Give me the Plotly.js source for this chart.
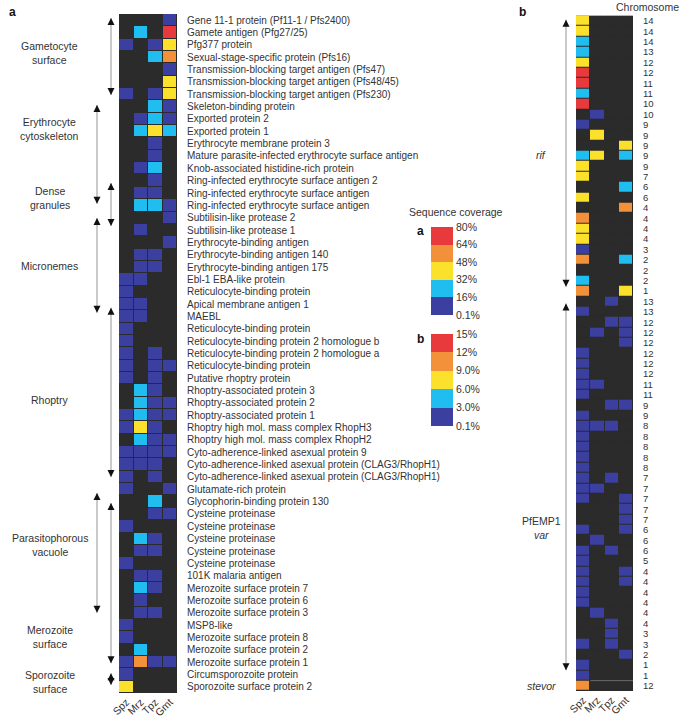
<!DOCTYPE html>
<html>
<head>
<meta charset="utf-8">
<script src="https://cdn.plot.ly/plotly-3.0.1.min.js"></script>
<style>
  body { margin: 0; background: #fff; }
  #chart { width: 685px; height: 720px; }
</style>
</head>
<body>
<div id="chart"></div>
<script>
// coverage level per cell: 0 none, 1 lowest bin ... 5 highest bin
var stages = ["Spz", "Mrz", "Tpz", "Gmt"];

var proteins = [
  "Gene 11-1 protein (Pf11-1 / Pfs2400)",
  "Gamete antigen (Pfg27/25)",
  "Pfg377 protein",
  "Sexual-stage-specific protein (Pfs16)",
  "Transmission-blocking target antigen (Pfs47)",
  "Transmission-blocking target antigen (Pfs48/45)",
  "Transmission-blocking target antigen (Pfs230)",
  "Skeleton-binding protein",
  "Exported protein 2",
  "Exported protein 1",
  "Erythrocyte membrane protein 3",
  "Mature parasite-infected erythrocyte surface antigen",
  "Knob-associated histidine-rich protein",
  "Ring-infected erythrocyte surface antigen 2",
  "Ring-infected erythrocyte surface antigen",
  "Ring-infected erythrocyte surface antigen",
  "Subtilisin-like protease 2",
  "Subtilisin-like protease 1",
  "Erythrocyte-binding antigen",
  "Erythrocyte-binding antigen 140",
  "Erythrocyte-binding antigen 175",
  "Ebl-1 EBA-like protein",
  "Reticulocyte-binding protein",
  "Apical membrane antigen 1",
  "MAEBL",
  "Reticulocyte-binding protein",
  "Reticulocyte-binding protein 2 homologue b",
  "Reticulocyte-binding protein 2 homologue a",
  "Reticulocyte-binding protein",
  "Putative rhoptry protein",
  "Rhoptry-associated protein 3",
  "Rhoptry-associated protein 2",
  "Rhoptry-associated protein 1",
  "Rhoptry high mol. mass complex RhopH3",
  "Rhoptry high mol. mass complex RhopH2",
  "Cyto-adherence-linked asexual protein 9",
  "Cyto-adherence-linked asexual protein (CLAG3/RhopH1)",
  "Cyto-adherence-linked asexual protein (CLAG3/RhopH1)",
  "Glutamate-rich protein",
  "Glycophorin-binding protein 130",
  "Cysteine proteinase",
  "Cysteine proteinase",
  "Cysteine proteinase",
  "Cysteine proteinase",
  "Cysteine proteinase",
  "101K malaria antigen",
  "Merozoite surface protein 7",
  "Merozoite surface protein 6",
  "Merozoite surface protein 3",
  "MSP8-like",
  "Merozoite surface protein 8",
  "Merozoite surface protein 2",
  "Merozoite surface protein 1",
  "Circumsporozoite protein",
  "Sporozoite surface protein 2"
];

var spzA = [0,0,1,0,0,0,1,0,0,0, 0,0,0,0,0,0,0,0,0,0, 0,1,1,1,1,1,1,1,1,1,
            0,0,1,1,0,1,1,1,1,0, 0,1,0,0,1,0,0,0,0,1, 1,0,1,1,3];
var mrzA = [0,2,0,0,0,0,0,0,1,2, 0,0,1,0,1,2,0,1,0,1, 1,1,0,1,1,0,0,0,0,0,
            2,2,2,3,2,1,1,0,0,0, 0,0,2,1,0,1,2,1,1,0, 0,2,4,0,0];
var tpzA = [0,0,1,2,0,0,1,2,2,3, 1,1,2,1,1,2,0,0,0,1, 1,0,0,0,0,0,0,1,1,1,
            1,1,1,1,1,1,1,1,0,2, 1,0,1,1,0,1,1,0,1,0, 0,0,1,0,0];
var gmtA = [1,5,3,4,1,3,3,1,1,2, 0,0,0,0,0,1,1,0,1,0, 0,0,0,0,0,0,0,0,1,0,
            0,1,1,0,1,1,0,0,1,0, 1,0,0,0,0,0,0,0,0,0, 0,0,1,0,0];

var chromosomes = [14,14,14,13,12,12,11,11,10,10,9,9,9,9,9,7,6,6,4,4,4,4,3,2,2,2,1,
                   13,13,12,12,12,12,12,12,11,11,9,9,8,8,8,8,8,7,7,7,7,7,6,6,6,5,4,4,4,4,4,4,3,3,2,1,1,
                   12];

var spzB = [3,3,2,2,3,5,5,2,5,0, 1,0,0,2,3,3,0,3,0,4, 3,3,1,4,0,2,4,
            0,1,0,0,0,1,1,1,1,1, 0,1,1,1,1,1,1,1,1,1, 0,0,1,0,1,1,1,1,1,1,
            0,0,0,1,0,1,1, 4];
var mrzB = [0,0,0,0,0,0,0,0,0,1, 0,3,0,3,0,0,0,0,0,0, 0,0,0,0,0,0,0,
            0,0,0,1,0,0,0,0,1,0, 0,0,1,0,0,0,0,0,1,0, 0,0,0,1,0,0,0,0,0,0,
            1,0,0,0,0,0,0, 0];
var tpzB = [0,0,0,0,0,0,0,0,0,0, 0,0,0,0,0,0,0,0,0,0, 0,0,0,0,0,0,0,
            1,0,1,0,0,0,0,0,0,0, 1,0,1,0,0,0,0,1,0,0, 0,0,0,0,1,0,0,0,0,0,
            0,1,1,1,0,0,0, 0];
var gmtB = [0,0,0,0,0,0,0,0,0,0, 0,0,3,2,0,0,2,0,4,0, 0,0,0,2,0,0,3,
            0,0,1,1,1,0,0,0,0,0, 1,0,0,0,0,0,0,0,0,1, 1,1,1,0,0,0,1,1,0,0,
            0,0,0,0,1,0,0, 0];

var binLabelsA = ["0.1%", "16%", "32%", "48%", "64%", "80%"];
var binLabelsB = ["0.1%", "3.0%", "6.0%", "9.0%", "12%", "15%"];

var levelColors = ["#2b2b2b", "#3b3fa0", "#1fbdf0", "#fbe12c", "#f2913a", "#e83a3c"];

// localisation groups of panel a (row index ranges for the arrows)
var groupsA = [
  { name: "Gametocyte<br>surface", labelRow: 2.66, lane: 1, from: -0.18, to: 6.06 },
  { name: "Erythrocyte<br>cytoskeleton", labelRow: 8.8, lane: 0, from: 6.87, to: 14.88 },
  { name: "Dense<br>granules", labelRow: 14.4, lane: 1, from: 13.18, to: 16.67 },
  { name: "Micronemes", labelRow: 19.9, lane: 0, from: 16.02, to: 23.7 },
  { name: "Rhoptry", labelRow: 30.8, lane: 1, from: 23.3, to: 37.0 },
  { name: "Parasitophorous<br>vacuole", labelRow: 42.5, lane: 0, from: 38.3, to: 48.0 },
  { name: "Merozoite<br>surface", labelRow: 50.0, lane: 1, from: 39.1, to: 52.1 },
  { name: "Sporozoite<br>surface", labelRow: 53.6, lane: 1, from: 52.9, to: 53.85 }
];
var groupsB = [
  { name: "<i>rif</i>", labelRow: 12.9, from: -0.1, to: 25.6, arrow: true },
  { name: "PfEMP1<br><i>var</i>", labelRow: 48.8, from: 27.2, to: 62.5, arrow: true },
  { name: "<i>stevor</i>", labelRow: 64, arrow: false }
];

var W = 685, H = 720;
function px(x) { return x / W; }
function py(y) { return 1 - y / H; }

function zFrom(cols) {
  var z = [];
  for (var i = 0; i < cols[0].length; i++) {
    z.push(cols.map(function (c) { return c[i]; }));
  }
  return z;
}

var scale = [];
levelColors.forEach(function (c, k) {
  scale.push([k / 6, c]);
  scale.push([(k + 1) / 6, c]);
});

var idxA = proteins.map(function (p, i) { return i; });
var idxB = chromosomes.map(function (c, i) { return i; });

var family = "Liberation Sans, Arial, sans-serif";
var font = { family: family, size: 10.5, color: "#333" };
var rowFontA = { family: family, size: 10, color: "#333" };
var rowFontB = { family: family, size: 9.5, color: "#333" };

var traceA = {
  type: "heatmap", x: stages, y: idxA, z: zFrom([spzA, mrzA, tpzA, gmtA]),
  colorscale: scale, zmin: -0.5, zmax: 5.5, showscale: false,
  xgap: 1, ygap: 1, xaxis: "x", yaxis: "y", hoverinfo: "skip"
};
var traceB = {
  type: "heatmap", x: stages, y: idxB, z: zFrom([spzB, mrzB, tpzB, gmtB]),
  colorscale: scale, zmin: -0.5, zmax: 5.5, showscale: false,
  xgap: 1, ygap: 1, xaxis: "x2", yaxis: "y2", hoverinfo: "skip"
};
var keyLevels = [[1], [2], [3], [4], [5]];
var keyA = {
  type: "heatmap", x: [0], y: [0, 1, 2, 3, 4], z: keyLevels,
  colorscale: scale, zmin: -0.5, zmax: 5.5, showscale: false,
  xaxis: "x3", yaxis: "y3", hoverinfo: "skip"
};
var keyB = {
  type: "heatmap", x: [0], y: [0, 1, 2, 3, 4], z: keyLevels,
  colorscale: scale, zmin: -0.5, zmax: 5.5, showscale: false,
  xaxis: "x4", yaxis: "y4", hoverinfo: "skip"
};

function stageAxis(domain, anchor) {
  return {
    domain: domain, anchor: anchor, type: "category", tickangle: -45,
    ticks: "", showgrid: false, zeroline: false, showline: false,
    tickfont: font, automargin: false, fixedrange: true
  };
}
function rowAxis(domain, anchor, n, text, tfont) {
  return {
    domain: domain, anchor: anchor, side: "right", range: [n - 0.5, -0.5],
    tickmode: "array", tickvals: text.map(function (t, i) { return i; }), ticktext: text,
    ticks: "", ticklabelstandoff: 9, showgrid: false, zeroline: false, showline: false,
    tickfont: tfont, automargin: false, fixedrange: true
  };
}
function keyYAxis(domain, anchor, labels) {
  return {
    domain: domain, anchor: anchor, side: "right", range: [-0.5, 4.5],
    tickmode: "array", tickvals: [-0.5, 0.5, 1.5, 2.5, 3.5, 4.5], ticktext: labels,
    ticks: "", ticklabelstandoff: 2, showgrid: false, zeroline: false,
    tickfont: font, automargin: false, fixedrange: true
  };
}
function hiddenAxis(domain, anchor) {
  return { domain: domain, anchor: anchor, visible: false, fixedrange: true };
}

var shapes = [];
var annotations = [];

// gray shaft with a short black head at each end; rowPx = pixels per row
function addArrow(xPix, yref, from, to, rowPx) {
  var tail = Math.min(6, (to - from) * rowPx / 2);
  shapes.push({
    type: "line", xref: "paper", yref: yref, x0: px(xPix), x1: px(xPix), y0: from, y1: to,
    line: { color: "#b8b8b8", width: 1.5 }
  });
  [[to, -tail], [from, tail]].forEach(function (h) {
    annotations.push({
      xref: "paper", yref: yref, x: px(xPix), y: h[0], axref: "pixel", ayref: "pixel",
      ax: 0, ay: h[1], text: "", showarrow: true, arrowhead: 2, arrowsize: 1.4,
      arrowwidth: 1, arrowcolor: "#111", standoff: 0
    });
  });
}

function label(xref, yref, x, y, text, f) {
  annotations.push({
    xref: xref, yref: yref, x: x, y: y, text: text, showarrow: false,
    xanchor: "center", yanchor: "middle", align: "center", font: f
  });
}

groupsA.forEach(function (g) {
  label("paper", "y", px(50), g.labelRow, g.name, font);
  addArrow(g.lane ? 111 : 97, "y", g.from, g.to, 12.35);
});
groupsB.forEach(function (g) {
  label("paper", "y2", px(541), g.labelRow, g.name, font);
  if (g.arrow) addArrow(566, "y2", g.from, g.to, 10.38);
});

// thin separator above the stevor row
shapes.push({
  type: "line", xref: "x2 domain", yref: "y2", x0: 0.25, x1: 1, y0: 63.5, y1: 63.5,
  line: { color: "#6a6a6a", width: 1 }
});

var bold = { family: family, size: 12, color: "#111" };
label("paper", "paper", px(12), py(12), "<b>a</b>", bold);
label("paper", "paper", px(522), py(12), "<b>b</b>", bold);
label("paper", "paper", px(647), py(7), "Chromosome", font);
label("paper", "paper", px(456), py(212), "Sequence coverage", font);
label("paper", "paper", px(420), py(231), "<b>a</b>", bold);
label("paper", "paper", px(420), py(339), "<b>b</b>", bold);

var layout = {
  width: W, height: H,
  margin: { l: 0, r: 0, t: 0, b: 0 },
  paper_bgcolor: "#fff", plot_bgcolor: "#2b2b2b",
  font: font, showlegend: false,
  xaxis: stageAxis([px(119), px(177)], "y"),
  yaxis: rowAxis([py(693), py(14)], "x", proteins.length, proteins, rowFontA),
  xaxis2: stageAxis([px(576), px(633)], "y2"),
  yaxis2: rowAxis([py(691), py(15.7)], "x2", chromosomes.length, chromosomes.map(String), rowFontB),
  xaxis3: hiddenAxis([px(431), px(453)], "y3"),
  yaxis3: keyYAxis([py(315), py(227)], "x3", binLabelsA),
  xaxis4: hiddenAxis([px(431), px(453)], "y4"),
  yaxis4: keyYAxis([py(426), py(334)], "x4", binLabelsB),
  shapes: shapes,
  annotations: annotations
};

Plotly.newPlot("chart", [traceA, traceB, keyA, keyB], layout, { displayModeBar: false, staticPlot: true });
</script>
</body>
</html>
